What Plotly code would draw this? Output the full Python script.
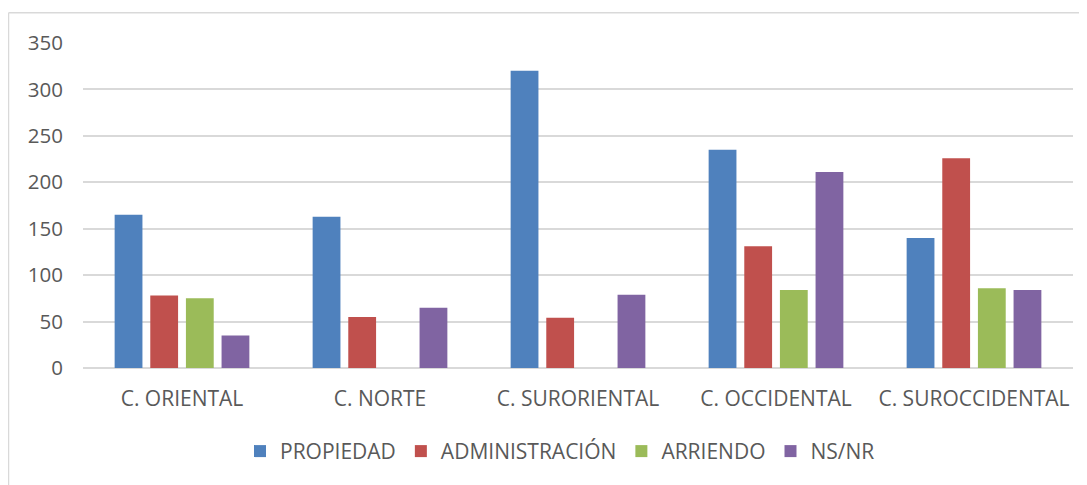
import plotly.graph_objects as go

categories = ["C. ORIENTAL", "C. NORTE", "C. SURORIENTAL", "C. OCCIDENTAL", "C. SUROCCIDENTAL"]
propiedad = [165, 163, 320, 235, 140]
administracion = [78, 55, 54, 131, 226]
arriendo = [75, None, None, 84, 86]
nsnr = [35, 65, 79, 211, 84]
series_names = ["PROPIEDAD", "ADMINISTRACIÓN", "ARRIENDO", "NS/NR"]
colors = ["#4F81BD", "#C0504D", "#9BBB59", "#8064A2"]
y_ticks = [0, 50, 100, 150, 200, 250, 300, 350]

fig = go.Figure()
for name, vals, col in zip(series_names, [propiedad, administracion, arriendo, nsnr], colors):
    fig.add_trace(go.Bar(x=categories, y=vals, name=name,
                         marker=dict(color=col, line=dict(width=0))))

OFF = 8  # page body margin
W, H = 1087 - OFF, 485 - OFF
L, T = 83 - OFF, 43.3 - OFF
R = W - (1073 - OFF)
B = H - (368.5 - OFF)
pw = W - L - R
ph = H - T - B

def px_x(p):
    return (p - OFF - L) / pw

def px_y(p):
    return (H - B - (p - OFF)) / ph

font = "Open Sans, Lato, sans-serif"
fig.update_layout(
    width=W, height=H,
    margin=dict(l=L, r=R, t=T, b=B, pad=0),
    paper_bgcolor="white", plot_bgcolor="white",
    barmode="group", bargap=0.28, bargroupgap=0.22,
    font=dict(family=font, size=21, color="#595959"),
    showlegend=True,
    legend=dict(orientation="h", x=px_x(560), xanchor="center", y=px_y(452), yanchor="middle",
                font=dict(size=21, color="#595959"), itemwidth=30, traceorder="normal"),
    xaxis=dict(showgrid=False, showline=False, ticks="", ticklabelstandoff=16,
               tickfont=dict(size=21, color="#595959")),
    yaxis=dict(range=[0, 350], tickvals=y_ticks, showgrid=True, gridcolor="#D9D9D9",
               gridwidth=1.5, zeroline=True, zerolinecolor="#D9D9D9", zerolinewidth=1.5,
               showline=False, ticks="", ticklabelstandoff=19,
               tickfont=dict(size=20.5, color="#595959")),
    shapes=[
        dict(type="line", xref="paper", yref="paper", x0=px_x(8.5), x1=px_x(8.5),
             y0=px_y(13), y1=px_y(495), line=dict(color="#D9D9D9", width=1.5)),
        dict(type="line", xref="paper", yref="paper", x0=px_x(8.5), x1=px_x(1095),
             y0=px_y(13), y1=px_y(13), line=dict(color="#D9D9D9", width=1.5)),
    ],
)

fig.write_html("out.html")
